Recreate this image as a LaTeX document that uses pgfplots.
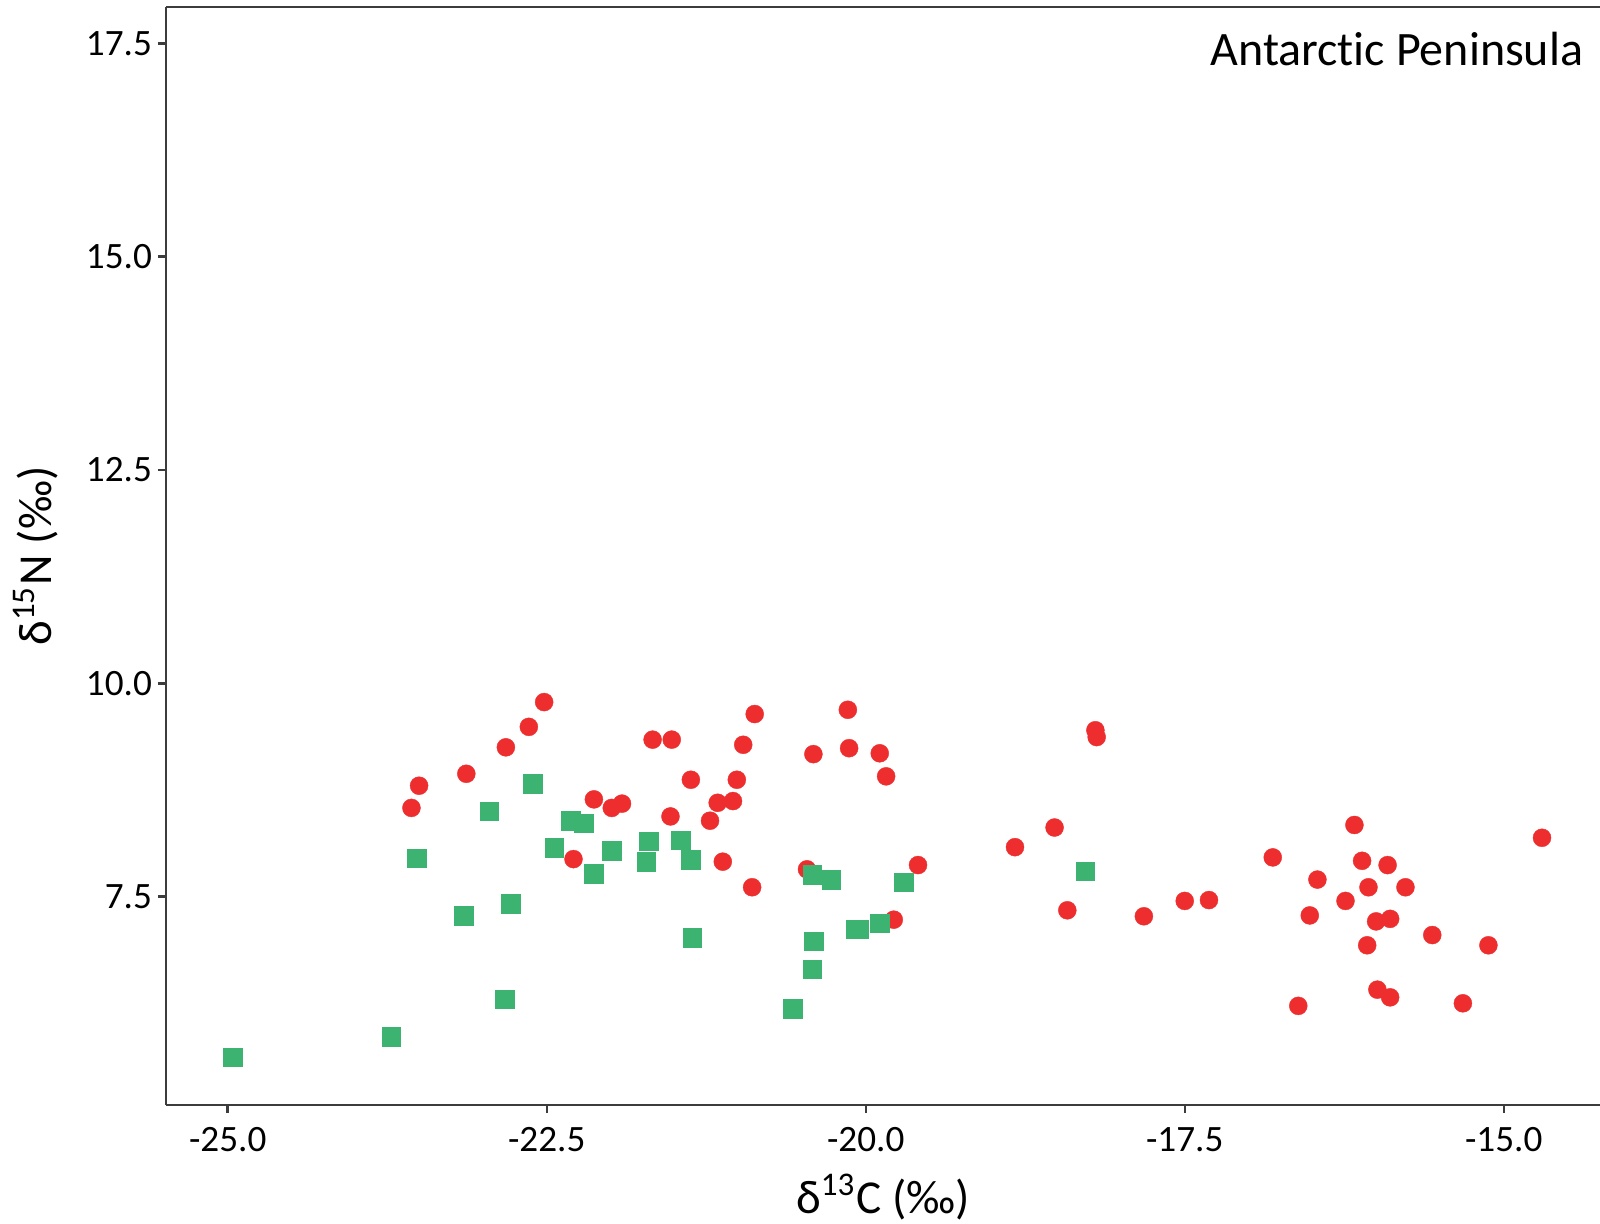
\documentclass[border=0pt]{standalone}
\usepackage{pgfplots}
\pgfplotsset{compat=1.18}
\usepackage{fontspec}
\setmainfont{Carlito}[Ligatures=NoCommon]
\definecolor{ptred}{RGB}{238,46,46}
\definecolor{ptgreen}{RGB}{60,179,113}
\definecolor{axgray}{RGB}{60,60,60}

\begin{document}
\begin{tikzpicture}
\begin{axis}[
  scale only axis,
  width=358.5pt, height=274.5pt,
  xmin=-25.4835, xmax=-14.2453,
  ymin=5.058, ymax=17.926,
  axis x line*=box, axis y line*=left,
  xtick pos=bottom, ytick pos=left,
  axis line style={axgray, line width=0.6pt},
  tick style={axgray, line width=0.6pt},
  tick align=outside, major tick length=2pt,
  xtick={-25,-22.5,-20,-17.5,-15},
  xticklabels={-25.0,-22.5,-20.0,-17.5,-15.0},
  ytick={7.5,10,12.5,15,17.5},
  yticklabels={7.5,10.0,12.5,15.0,17.5},
  tick label style={font=\fontsize{9.3}{11}\selectfont, text=black},
  yticklabel style={xshift=2pt},
  label style={font=\fontsize{11.8}{14}\selectfont, text=black},
  xlabel={δ\textsuperscript{13}C (‰)},
  ylabel={δ\textsuperscript{15}N (‰)},
  xlabel style={at={(axis description cs:0.5,-0.0984)}, anchor=base},
  ylabel style={at={(axis description cs:-0.0795,0.5)}, anchor=base, rotate=0},
  clip=false,
]
% Adults (red circles)
\addplot[only marks, mark=*, mark size=2.25pt, color=ptred, line width=0.1pt] table {
x y
-22.52 9.78
-22.64 9.49
-22.82 9.25
-23.13 8.94
-23.50 8.80
-23.56 8.54
-22.13 8.64
-21.99 8.54
-21.91 8.59
-22.29 7.94
-21.67 9.34
-21.52 9.34
-21.37 8.87
-21.53 8.44
-20.87 9.64
-20.96 9.28
-21.01 8.87
-21.16 8.60
-21.04 8.62
-21.22 8.39
-21.12 7.91
-20.89 7.61
-20.46 7.82
-20.14 9.69
-20.41 9.17
-20.13 9.24
-19.89 9.18
-19.84 8.91
-19.59 7.87
-19.78 7.23
-18.83 8.08
-18.52 8.31
-18.42 7.34
-18.20 9.45
-18.19 9.37
-17.82 7.27
-17.50 7.45
-17.31 7.46
-16.17 8.34
-16.81 7.96
-16.11 7.92
-15.91 7.87
-16.46 7.70
-16.06 7.61
-15.77 7.61
-16.24 7.45
-16.52 7.28
-16.00 7.21
-15.89 7.24
-16.07 6.93
-15.56 7.05
-15.12 6.93
-15.99 6.41
-15.89 6.32
-16.61 6.22
-15.32 6.25
-14.70 8.19
};
% Juveniles (green squares)
\addplot[only marks, mark=square*, mark size=2.33pt, color=ptgreen, line width=0.1pt] table {
x y
-22.61 8.82
-22.95 8.50
-23.52 7.95
-22.31 8.39
-22.21 8.36
-22.44 8.07
-21.99 8.04
-22.13 7.77
-21.70 8.15
-21.72 7.91
-21.45 8.16
-21.37 7.93
-23.15 7.28
-22.78 7.42
-21.36 7.02
-22.83 6.30
-23.72 5.86
-20.57 6.19
-20.42 7.76
-20.27 7.70
-19.70 7.67
-20.08 7.12
-20.05 7.12
-19.89 7.19
-20.41 6.98
-20.42 6.65
-18.28 7.80
-24.96 5.62
};
\node[anchor=base east, font=\fontsize{12}{14}\selectfont, inner sep=0pt]
  at ([xshift=-4pt,yshift=-14.5pt]rel axis cs:1,1) {Antarctic Peninsula};
\coordinate (sw) at (rel axis cs:0,0);
\coordinate (ne) at (rel axis cs:1,1);
\end{axis}
\pgfresetboundingbox
\path[use as bounding box] ([xshift=-41.5pt,yshift=-29.5pt]sw) rectangle ([yshift=1.75pt]ne);
\end{tikzpicture}
\end{document}
